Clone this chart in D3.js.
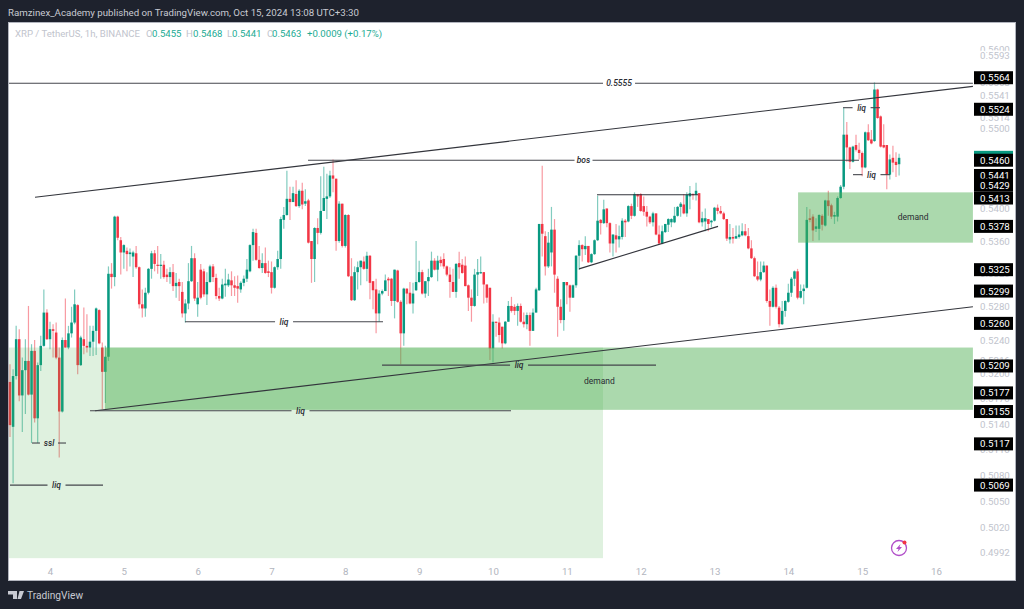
<!DOCTYPE html>
<html>
<head>
<meta charset="utf-8">
<script src="https://cdn.jsdelivr.net/npm/d3@7"></script>
<style>
  html, body { margin: 0; padding: 0; background: #1e222d; }
  svg { display: block; }
</style>
</head>
<body>
<main></main>
<script>
const width = 1024
const height = 609

// hourly candles, prices in 1/10000 USDT, first candle is Oct 3 11:00
const opens = [
  5190,5137,5197,5241,5174,5204,5215,5175,5227,5147,
  5210,5233,5273,5241,5253,5249,5219,5155,5240,5231,
  5248,5261,5282,5210,5241,5233,5231,5238,5251,5276,
  5231,5202,5220,5320,5316,5390,5361,5346,5348,5344,
  5341,5345,5328,5283,5278,5297,5326,5345,5331,5330,
  5331,5319,5316,5322,5305,5310,5298,5272,5284,5311,
  5339,5283,5325,5323,5295,5310,5329,5315,5293,5290,
  5306,5306,5312,5306,5305,5301,5309,5314,5323,5355,
  5370,5337,5327,5333,5323,5322,5303,5328,5338,5386,
  5392,5412,5408,5418,5403,5422,5406,5410,5360,5338,
  5376,5370,5397,5412,5415,5441,5437,5360,5406,5354,
  5392,5317,5288,5322,5328,5335,5326,5342,5311,5301,
  5272,5296,5299,5314,5314,5287,5324,5286,5248,5302,
  5297,5284,5300,5310,5322,5296,5311,5316,5336,5325,
  5337,5338,5329,5319,5310,5298,5333,5331,5330,5306,
  5291,5281,5319,5321,5322,5307,5303,5230,5262,5261,
  5256,5236,5262,5281,5280,5275,5281,5262,5259,5270,
  5251,5273,5300,5381,5366,5329,5346,5374,5314,5280,
  5264,5310,5306,5291,5306,5342,5355,5350,5354,5334,
  5344,5361,5386,5382,5400,5382,5357,5367,5362,5365,
  5385,5384,5403,5391,5418,5418,5403,5396,5390,5383,
  5394,5368,5357,5371,5380,5383,5383,5391,5402,5405,
  5394,5415,5418,5417,5419,5383,5384,5387,5383,5385,
  5401,5397,5394,5387,5362,5365,5363,5365,5367,5372,
  5366,5351,5339,5317,5313,5322,5330,5287,5280,5303,
  5279,5259,5275,5286,5297,5314,5323,5291,5299,5303,
  5388,5390,5375,5375,5391,5379,5410,5404,5390,5390,
  5413,5427,5492,5476,5458,5479,5473,5469,5451,5495,
  5486,5484,5549,5515,5479,5479,5442,5463,5458,5455
]
const highs = [
  5211,5205,5257,5253,5219,5241,5281,5235,5240,5213,
  5245,5301,5277,5262,5259,5261,5231,5243,5290,5257,
  5280,5301,5283,5245,5279,5271,5257,5257,5279,5277,
  5237,5233,5329,5333,5391,5391,5365,5356,5352,5351,
  5348,5354,5329,5301,5303,5327,5348,5349,5354,5344,
  5336,5326,5328,5332,5321,5314,5310,5289,5333,5354,
  5345,5310,5332,5326,5322,5331,5332,5320,5303,5314,
  5326,5320,5323,5317,5318,5311,5318,5338,5356,5375,
  5375,5354,5345,5352,5336,5335,5329,5348,5390,5402,
  5447,5427,5427,5435,5424,5432,5424,5412,5360,5377,
  5388,5440,5452,5443,5447,5461,5437,5409,5406,5393,
  5393,5339,5329,5335,5336,5341,5347,5343,5311,5314,
  5300,5301,5319,5316,5315,5325,5325,5288,5303,5302,
  5310,5309,5360,5336,5325,5311,5326,5347,5339,5342,
  5341,5345,5330,5328,5326,5333,5347,5338,5341,5307,
  5301,5326,5338,5341,5322,5307,5303,5271,5262,5267,
  5256,5263,5287,5292,5283,5284,5284,5273,5273,5273,
  5278,5303,5381,5453,5372,5371,5402,5387,5317,5289,
  5310,5310,5307,5307,5343,5361,5356,5366,5354,5345,
  5362,5416,5387,5411,5400,5383,5368,5381,5379,5388,
  5387,5404,5406,5420,5418,5419,5415,5403,5391,5396,
  5394,5379,5379,5381,5388,5388,5402,5403,5408,5418,
  5420,5428,5419,5432,5419,5396,5400,5387,5386,5402,
  5405,5403,5396,5387,5381,5376,5379,5379,5382,5381,
  5376,5361,5341,5335,5335,5335,5330,5301,5305,5307,
  5281,5287,5288,5308,5316,5324,5326,5307,5307,5402,
  5399,5393,5388,5393,5393,5411,5422,5406,5396,5415,
  5429,5526,5508,5477,5478,5492,5482,5471,5496,5505,
  5498,5558,5550,5516,5505,5479,5467,5478,5470,5468
]
const lows = [
  5125,5071,5193,5167,5131,5152,5174,5118,5142,5118,
  5203,5232,5240,5229,5219,5217,5101,5154,5231,5229,
  5243,5259,5199,5209,5223,5225,5221,5221,5222,5235,
  5158,5165,5215,5302,5305,5361,5319,5326,5323,5329,
  5316,5326,5278,5267,5268,5295,5314,5323,5320,5314,
  5314,5310,5308,5299,5291,5287,5267,5261,5277,5310,
  5287,5268,5289,5292,5282,5309,5310,5289,5287,5289,
  5292,5304,5293,5293,5285,5297,5305,5310,5322,5336,
  5336,5326,5321,5320,5316,5296,5302,5325,5326,5375,
  5391,5386,5408,5402,5401,5399,5403,5357,5309,5310,
  5356,5368,5397,5387,5413,5420,5348,5358,5352,5352,
  5316,5287,5287,5301,5306,5325,5311,5289,5277,5248,
  5262,5294,5299,5293,5281,5266,5285,5211,5233,5283,
  5283,5272,5299,5309,5295,5291,5293,5315,5324,5311,
  5329,5326,5317,5291,5298,5291,5314,5320,5305,5275,
  5262,5280,5293,5320,5284,5285,5216,5213,5244,5237,
  5230,5235,5262,5273,5270,5257,5261,5255,5253,5233,
  5251,5273,5299,5341,5318,5327,5329,5297,5244,5260,
  5251,5283,5274,5291,5303,5325,5335,5343,5333,5333,
  5343,5360,5368,5381,5377,5346,5341,5346,5352,5362,
  5365,5383,5387,5390,5402,5396,5391,5378,5381,5378,
  5367,5355,5356,5370,5371,5377,5382,5390,5390,5393,
  5390,5399,5411,5410,5382,5378,5372,5372,5377,5384,
  5393,5393,5386,5360,5357,5357,5363,5363,5366,5366,
  5350,5338,5316,5311,5311,5321,5285,5257,5279,5278,
  5255,5258,5268,5285,5292,5305,5289,5290,5283,5302,
  5383,5360,5371,5361,5373,5378,5391,5387,5381,5384,
  5412,5424,5458,5449,5457,5471,5461,5440,5450,5484,
  5480,5483,5512,5476,5475,5424,5436,5445,5439,5441
]
const closes = [
  5139,5197,5241,5174,5204,5215,5175,5227,5147,5210,
  5233,5273,5241,5253,5251,5219,5155,5240,5231,5248,
  5261,5283,5210,5243,5233,5231,5238,5251,5278,5236,
  5202,5220,5320,5316,5390,5364,5346,5355,5344,5346,
  5346,5328,5283,5278,5297,5326,5345,5332,5330,5331,
  5316,5316,5322,5305,5309,5305,5272,5284,5311,5339,
  5290,5291,5291,5295,5310,5329,5316,5293,5290,5307,
  5308,5313,5306,5303,5302,5309,5314,5325,5355,5371,
  5337,5327,5333,5321,5321,5303,5328,5338,5387,5392,
  5412,5408,5419,5403,5422,5405,5409,5358,5338,5376,
  5370,5397,5413,5415,5441,5437,5360,5406,5354,5392,
  5317,5288,5322,5328,5336,5326,5342,5309,5300,5272,
  5296,5299,5312,5312,5287,5325,5286,5248,5302,5296,
  5284,5296,5310,5322,5296,5311,5316,5336,5325,5336,
  5333,5329,5319,5310,5298,5332,5328,5321,5305,5291,
  5281,5319,5322,5322,5307,5291,5230,5262,5261,5246,
  5236,5262,5281,5275,5275,5281,5262,5259,5270,5251,
  5273,5301,5381,5369,5329,5358,5374,5319,5280,5264,
  5310,5306,5291,5306,5342,5355,5350,5354,5334,5344,
  5361,5385,5382,5399,5382,5357,5368,5362,5366,5385,
  5383,5403,5391,5418,5415,5397,5396,5390,5383,5394,
  5368,5357,5372,5381,5387,5387,5391,5402,5406,5394,
  5417,5419,5417,5422,5383,5388,5388,5381,5385,5401,
  5397,5394,5387,5363,5365,5363,5366,5368,5372,5367,
  5351,5339,5317,5313,5322,5330,5287,5280,5303,5280,
  5259,5275,5287,5297,5314,5323,5291,5299,5302,5386,
  5386,5373,5378,5392,5380,5410,5403,5390,5392,5413,
  5427,5492,5476,5458,5477,5473,5469,5451,5495,5485,
  5481,5549,5513,5477,5476,5442,5461,5457,5454,5463
]

const dayTicks = [4, 5, 6, 7, 8, 9, 10, 11, 12, 13, 14, 15, 16]
const priceTicks = [5600, 5593, 5558, 5541, 5514, 5500, 5400, 5360, 5320, 5280, 5240, 5216, 5200, 5170, 5140, 5110, 5080, 5050, 5020, 4992]
const markedPrices = [5564, 5524, 5460, 5441, 5429, 5413, 5378, 5325, 5299, 5260, 5209, 5177, 5155, 5117, 5069]
const lastPrice = 5463

// zones: [day from, day to, price top, price bottom]
const lightZones = [[3.445, 11.49, 5231, 4985]]
const demandZones = [[4.745, 16.5, 5231, 5157], [14.132, 16.5, 5420, 5358]]

// trend lines: [day, price, day, price]
const trendLines = [
  [3.797, 5414, 16.5, 5553],
  [4.61, 5156, 16.5, 5280],
  [11.165, 5326, 13.048, 5378],
  [11.409, 5417, 12.777, 5417]
]

// labelled levels: [day from, day to, price, label, label day]
const levels = [
  [3.445, 16.5, 5557, '0.5555', 11.707],
  [7.495, 14.957, 5460, 'bos', 11.226],
  [5.829, 8.51, 5262, 'liq', 7.17],
  [8.497, 12.208, 5210, 'liq', 10.353],
  [4.542, 10.244, 5156, 'liq', 7.393],
  [3.756, 4.217, 5118, 'ssl', 3.986],
  [3.458, 4.718, 5069, 'liq', 4.088],
  [14.741, 15.242, 5526, 'liq', 14.992],
  [14.876, 15.377, 5442, 'liq', 15.126]
]
const zoneLabels = [[15.69, 5386, 'demand'], [11.44, 5187, 'demand']]

const uiFont = 'Roboto, "Liberation Sans", sans-serif'
const up = '#089981'
const down = '#f23645'

const x = d3.scaleLinear().domain([4, 16]).range([50, 936])
const y = d3.scaleLog().domain([5593, 4992]).range([55, 552])
const candleDay = i => 4 + (i - 13) / 24
const fmt = d => (d / 1e4).toFixed(4)

const svg = d3.select('main')
  .append('svg')
  .attr('width', width)
  .attr('height', height)
  .style('font-family', uiFont)

// Frame
svg.append('rect').attr('width', width).attr('height', height).attr('fill', '#1e222d')
svg.append('rect')
  .attr('x', 8.5).attr('y', 22.5)
  .attr('width', 1007).attr('height', 558)
  .attr('fill', '#ffffff')
  .attr('stroke', '#b2b5be')

// Candles
const candles = svg.append('g')
  .selectAll('g')
  .data(d3.range(opens.length))
  .enter()
  .append('g')
  .attr('fill', i => closes[i] >= opens[i] ? up : down)
  .attr('stroke', i => closes[i] >= opens[i] ? up : down)

candles.append('line')
  .attr('x1', i => x(candleDay(i)))
  .attr('x2', i => x(candleDay(i)))
  .attr('y1', i => y(highs[i]))
  .attr('y2', i => y(lows[i]))
  .attr('stroke-width', 1.2)
  .attr('stroke-opacity', 0.5)

candles.append('rect')
  .attr('x', i => x(candleDay(i)) - 1.25)
  .attr('width', 2.5)
  .attr('y', i => y(Math.max(opens[i], closes[i])))
  .attr('height', i => Math.max(1.2, Math.abs(y(opens[i]) - y(closes[i]))))
  .attr('stroke', 'none')

// Zones go over the candles
const zoneRect = (data, opacity) => svg.append('g')
  .selectAll('rect')
  .data(data)
  .enter()
  .append('rect')
  .attr('x', d => x(d[0]))
  .attr('width', d => x(d[1]) - x(d[0]))
  .attr('y', d => y(d[2]))
  .attr('height', d => y(d[3]) - y(d[2]))
  .attr('fill', '#4caf50')
  .attr('fill-opacity', opacity)

zoneRect(lightZones, 0.18)
zoneRect(demandZones, 0.47)

svg.append('g')
  .selectAll('text')
  .data(zoneLabels)
  .enter()
  .append('text')
  .attr('x', d => x(d[0]))
  .attr('y', d => y(d[1]))
  .attr('text-anchor', 'middle')
  .style('font-size', '8.5px')
  .style('fill', '#2a2c33')
  .text(d => d[2])

// Trend lines
svg.append('g')
  .selectAll('line')
  .data(trendLines)
  .enter()
  .append('line')
  .attr('x1', d => x(d[0]))
  .attr('y1', d => y(d[1]))
  .attr('x2', d => x(d[2]))
  .attr('y2', d => y(d[3]))
  .attr('stroke', '#33353c')
  .attr('stroke-width', 1.1)

// Horizontal levels, the line breaks around its label
const level = svg.append('g')
  .selectAll('g')
  .data(levels)
  .enter()
  .append('g')

level.append('line')
  .attr('x1', d => x(d[0]))
  .attr('x2', d => x(d[4]) - (d[3].length > 3 ? 16 : 9))
  .attr('y1', d => y(d[2]))
  .attr('y2', d => y(d[2]))
  .attr('stroke', '#44464d')
  .attr('stroke-width', 1.1)

level.append('line')
  .attr('x1', d => x(d[4]) + (d[3].length > 3 ? 16 : 9))
  .attr('x2', d => x(d[1]))
  .attr('y1', d => y(d[2]))
  .attr('y2', d => y(d[2]))
  .attr('stroke', '#44464d')
  .attr('stroke-width', 1.1)

level.append('text')
  .attr('x', d => x(d[4]))
  .attr('y', d => y(d[2]) + 3)
  .attr('text-anchor', 'middle')
  .style('font-size', '8.5px')
  .style('font-style', 'italic')
  .style('font-weight', 500)
  .style('fill', '#2a2c33')
  .text(d => d[3])

// x-axis
const xAxis = svg.append('g')
  .attr('transform', 'translate(0, 565)')
  .call(d3.axisBottom(x).tickValues(dayTicks).tickFormat(d3.format('d')).tickSize(0))
xAxis.select('.domain').remove()
xAxis.selectAll('text')
  .style('font-family', uiFont)
  .style('font-size', '9.7px')
  .style('fill', '#b2b5be')

// y-axis, the white halo lets a later label hide the one it runs into
const yAxis = svg.append('g')
  .attr('transform', 'translate(980, 0)')
  .call(d3.axisRight(y).tickValues(priceTicks).tickFormat(fmt).tickSize(0).tickPadding(0))
yAxis.select('.domain').remove()
yAxis.selectAll('text')
  .style('font-family', uiFont)
  .style('font-size', '9.7px')
  .style('fill', '#c1c4cd')
  .style('stroke', '#ffffff')
  .style('stroke-width', 3)
  .style('paint-order', 'stroke')

// Last price tag sits behind the black ones
svg.append('rect')
  .attr('x', 974).attr('width', 39)
  .attr('y', y(lastPrice) - 7).attr('height', 14)
  .attr('fill', up)

// Marked price tags
const tag = svg.append('g')
  .selectAll('g')
  .data(markedPrices)
  .enter()
  .append('g')
  .attr('transform', d => `translate(974, ${y(d)})`)

tag.append('rect')
  .attr('y', -6.5)
  .attr('width', 39)
  .attr('height', 13)
  .attr('fill', '#000000')

tag.append('text')
  .attr('x', 6)
  .attr('y', 3.5)
  .style('font-size', '9.7px')
  .style('fill', '#ffffff')
  .text(fmt)

// Title
svg.append('text')
  .attr('x', 8)
  .attr('y', 15.5)
  .style('font-size', '9.7px')
  .style('fill', '#c8cad2')
  .text('Ramzinex_Academy published on TradingView.com, Oct 15, 2024 13:08 UTC+3:30')

// Legend
const legendItems = [
  [15, 'XRP / TetherUS, 1h, BINANCE', '#c1c4cd'],
  [146, 'O', '#c1c4cd'], [152, '0.5455', '#22ab94'],
  [186, 'H', '#c1c4cd'], [193, '0.5468', '#22ab94'],
  [227, 'L', '#c1c4cd'], [232, '0.5441', '#22ab94'],
  [267, 'C', '#c1c4cd'], [272, '0.5463', '#22ab94'],
  [307, '+0.0009 (+0.17%)', '#22ab94']
]
svg.append('g')
  .selectAll('text')
  .data(legendItems)
  .enter()
  .append('text')
  .attr('x', d => d[0])
  .attr('y', 37)
  .style('font-size', '9.6px')
  .style('fill', d => d[2])
  .text(d => d[1])

// Bolt icon
const bolt = svg.append('g').attr('transform', 'translate(899, 548)')
bolt.append('circle').attr('r', 7.5).attr('fill', 'none').attr('stroke', '#b14fc9').attr('stroke-width', 1.3)
bolt.append('path').attr('d', 'M1.5,-4 L-3,1 L-0.5,1 L-1.5,4 L3,-1 L0.5,-1 Z').attr('fill', '#b14fc9')
bolt.append('circle').attr('cx', 5.5).attr('cy', -5.5).attr('r', 2).attr('fill', '#f23645')

// Footer logo
svg.append('path')
  .attr('d', 'M8,591 H17 V599 H13 V594.5 H8 Z M19.5,591 H24 L21,599 H17.5 Z')
  .attr('fill', '#c8cad2')
svg.append('text')
  .attr('x', 27)
  .attr('y', 598.5)
  .style('font-size', '10.2px')
  .style('fill', '#c8cad2')
  .text('TradingView')
</script>
</body>
</html>
